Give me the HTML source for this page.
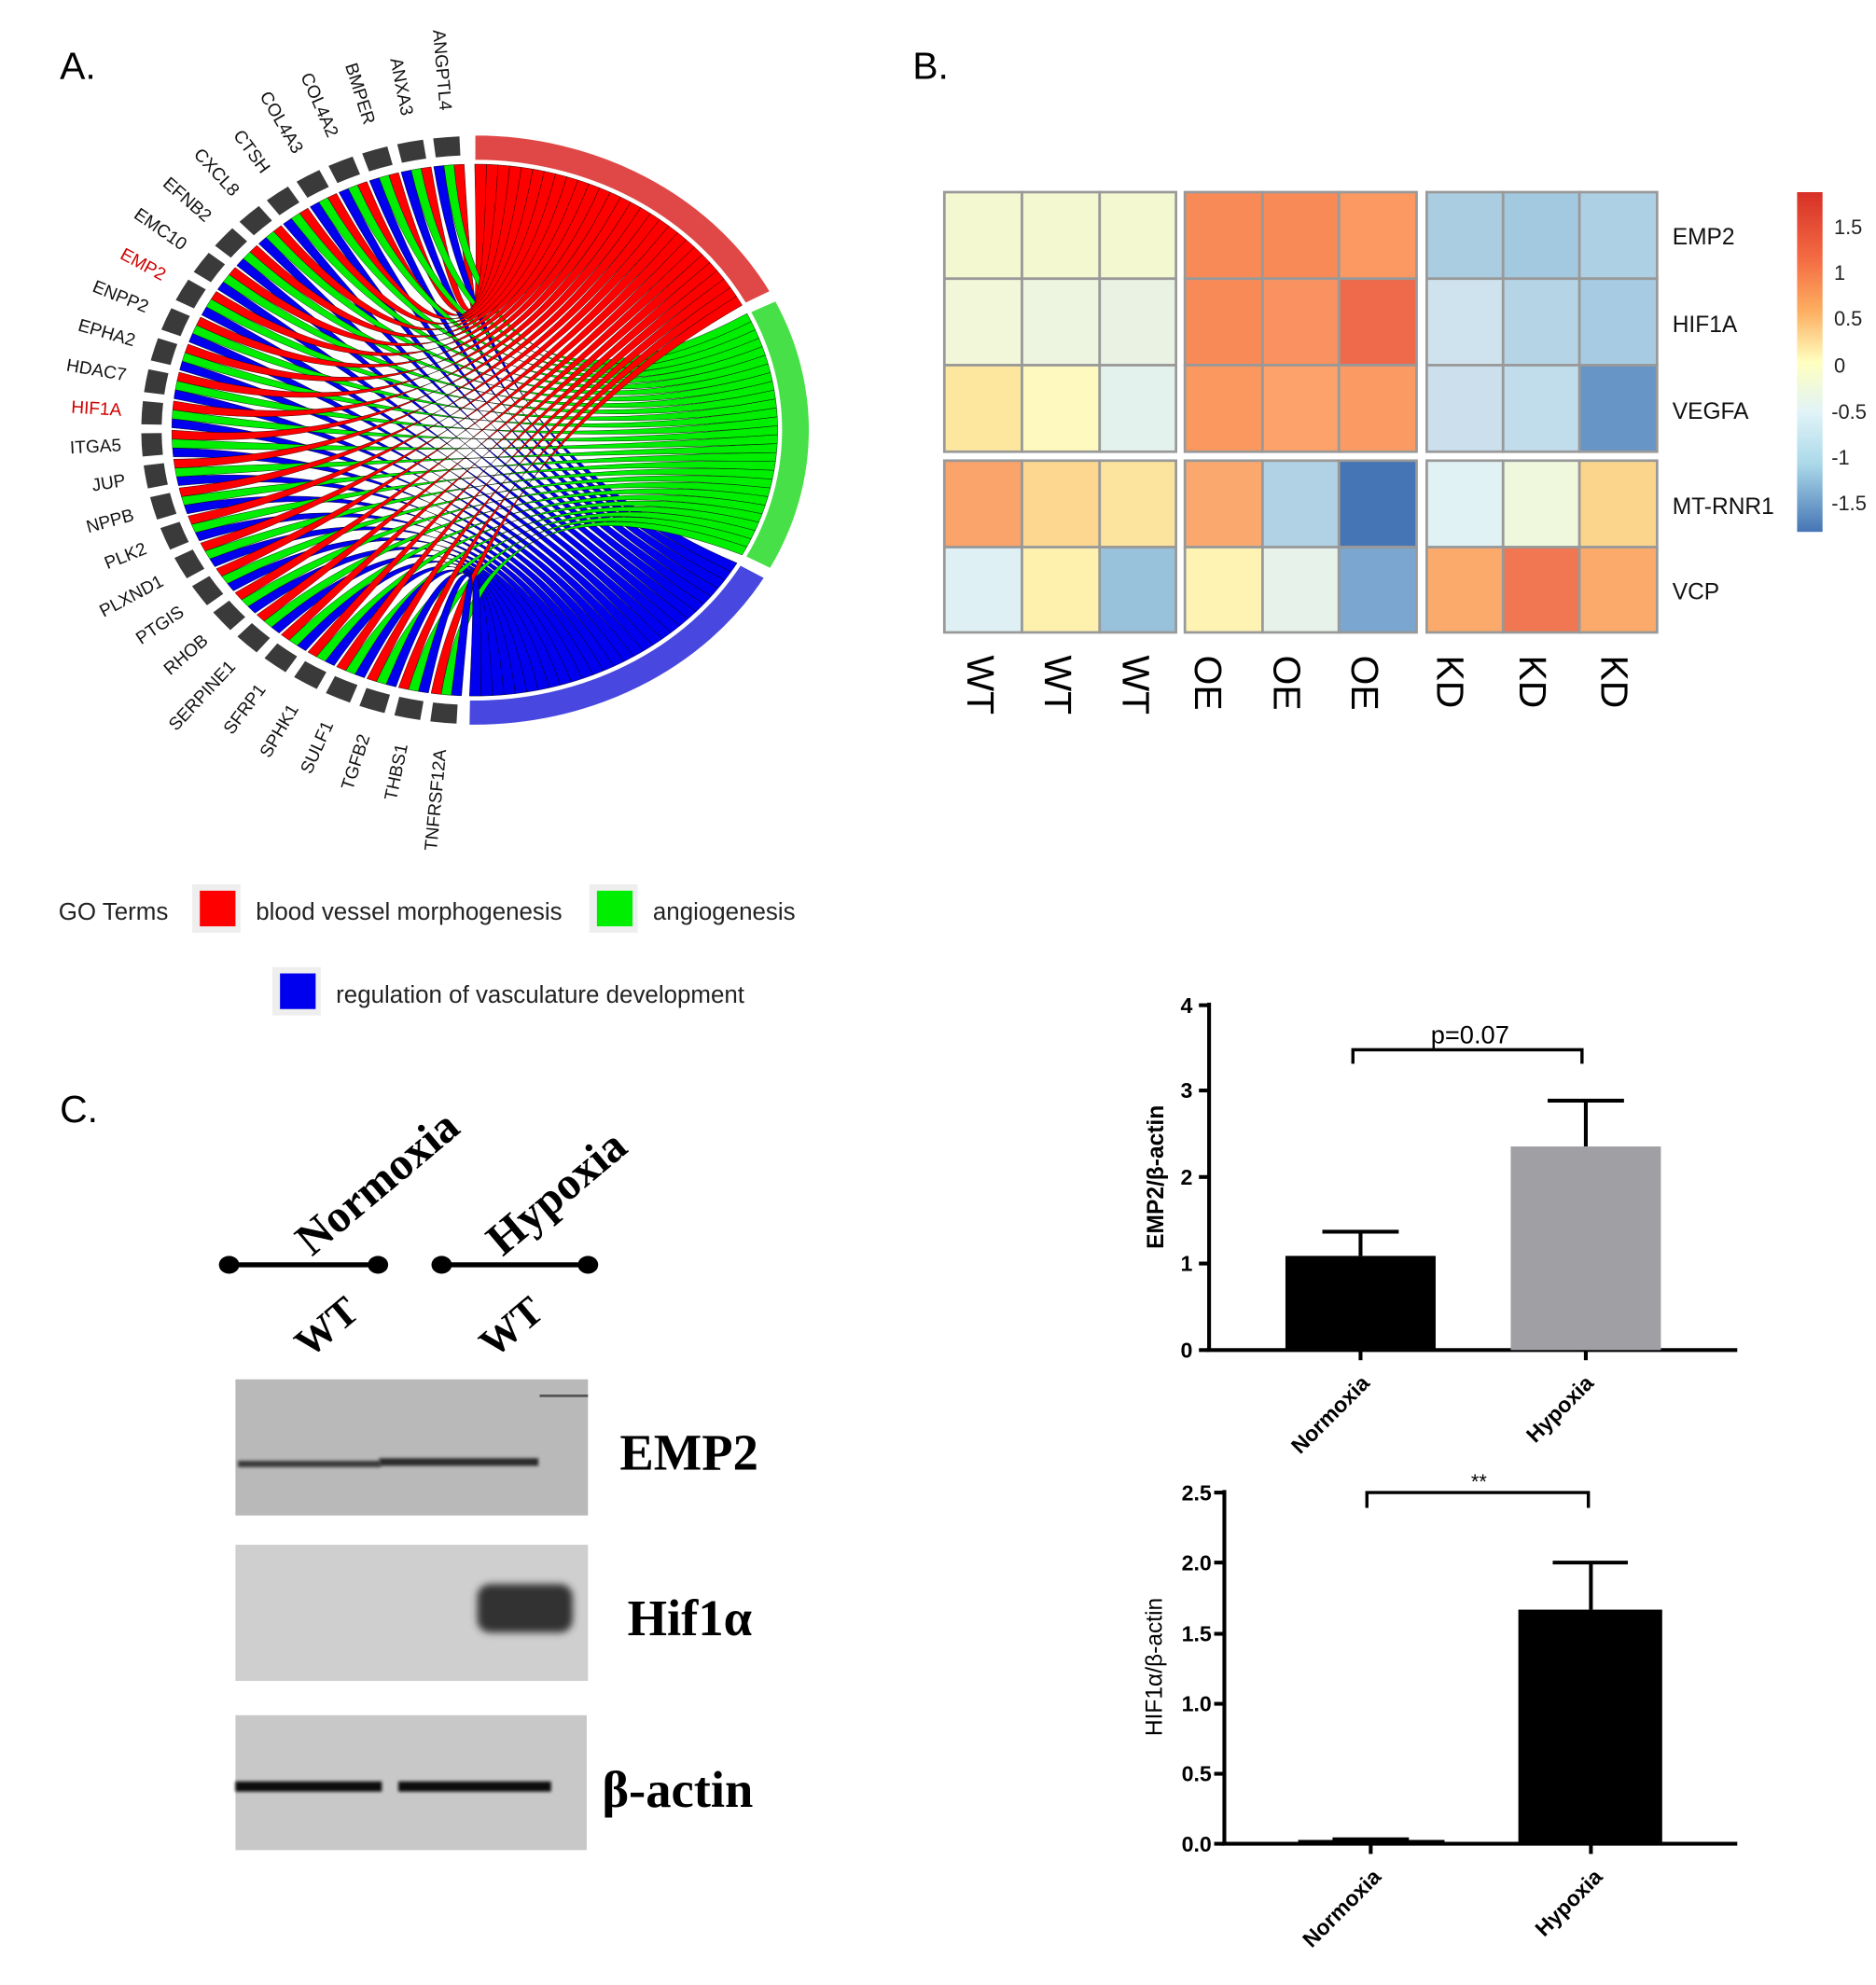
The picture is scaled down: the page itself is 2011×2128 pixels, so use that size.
<!DOCTYPE html>
<html><head><meta charset="utf-8"><style>
html,body{margin:0;padding:0;background:#fff;}
svg{display:block;}
.s{font-family:"Liberation Sans",sans-serif;}
.r{font-family:"Liberation Serif",serif;font-weight:bold;}
</style></head><body>
<svg id="m" width="2011" height="2128" viewBox="0 0 1474 1560" preserveAspectRatio="none" xmlns="http://www.w3.org/2000/svg">
<rect width="1474" height="1560" fill="#fff"/>
<text x="47" y="62" class="s" font-size="30">A.</text>
<text x="717" y="62" class="s" font-size="30">B.</text>
<text x="47" y="882" class="s" font-size="30">C.</text>
<g id="chord"></g>
<g id="labels" class="s" font-size="14"></g>

<!-- legend -->
<g class="s" font-size="19" fill="#222">
<text x="46" y="723">GO Terms</text>
<rect x="151" y="695" width="38" height="38" fill="#eee"/><rect x="157" y="700" width="28" height="28" fill="#ff0000"/>
<text x="201" y="723">blood vessel morphogenesis</text>
<rect x="463" y="695" width="38" height="38" fill="#eee"/><rect x="469" y="700" width="28" height="28" fill="#00ee00"/>
<text x="513" y="723">angiogenesis</text>
<rect x="214" y="760" width="38" height="38" fill="#eee"/><rect x="220" y="765" width="28" height="28" fill="#0000ee"/>
<text x="264" y="788">regulation of vasculature development</text>
</g>

<!-- heatmap -->
<g id="heat" stroke="#999" stroke-width="2"></g>
<defs><linearGradient id="cb" x1="0" y1="0" x2="0" y2="1">
<stop offset="0" stop-color="#d73027"/><stop offset="0.2" stop-color="#f46d43"/><stop offset="0.35" stop-color="#fdae61"/><stop offset="0.5" stop-color="#ffffbf"/><stop offset="0.65" stop-color="#e0f3f8"/><stop offset="0.8" stop-color="#abd9e9"/><stop offset="1" stop-color="#4575b4"/></linearGradient></defs>
<rect x="1412" y="151" width="20" height="267" fill="url(#cb)"/>
<g class="s" font-size="16" fill="#222">
<text x="1441" y="184">1.5</text><text x="1441" y="220">1</text><text x="1441" y="256">0.5</text><text x="1441" y="293">0</text><text x="1439" y="329">-0.5</text><text x="1439" y="365">-1</text><text x="1439" y="401">-1.5</text>
</g>
<g class="s" font-size="18" fill="#111">
<text x="1314" y="192">EMP2</text><text x="1314" y="261">HIF1A</text><text x="1314" y="329">VEGFA</text><text x="1314" y="404">MT-RNR1</text><text x="1314" y="471">VCP</text>
</g>
<g class="s" font-size="30" fill="#000">
<text transform="translate(760,515) rotate(90)">WT</text>
<text transform="translate(821,515) rotate(90)">WT</text>
<text transform="translate(882,515) rotate(90)">WT</text>
<text transform="translate(939,515) rotate(90)">OE</text>
<text transform="translate(1001,515) rotate(90)">OE</text>
<text transform="translate(1062,515) rotate(90)">OE</text>
<text transform="translate(1129,515) rotate(90)">KD</text>
<text transform="translate(1194,515) rotate(90)">KD</text>
<text transform="translate(1258,515) rotate(90)">KD</text>
</g>

<!-- panel C -->
<g class="r" fill="#000">
<text transform="translate(245,988) rotate(-40)" font-size="36">Normoxia</text>
<text transform="translate(395,988) rotate(-40)" font-size="36">Hypoxia</text>
<text transform="translate(243,1068) rotate(-40)" font-size="32">WT</text>
<text transform="translate(388,1068) rotate(-40)" font-size="32">WT</text>
<text x="487" y="1155" font-size="40">EMP2</text>
<text x="493" y="1285" font-size="40">Hif1α</text>
<text x="473" y="1420" font-size="40">β-actin</text>
</g>
<g stroke="#000" stroke-width="4"><line x1="180" y1="994" x2="297" y2="994"/><line x1="347" y1="994" x2="462" y2="994"/></g>
<g fill="#000"><ellipse cx="180" cy="994" rx="8" ry="7"/><ellipse cx="297" cy="994" rx="8" ry="7"/><ellipse cx="347" cy="994" rx="8" ry="7"/><ellipse cx="462" cy="994" rx="8" ry="7"/></g>
<defs><filter id="bl" x="-50%" y="-50%" width="200%" height="200%"><feGaussianBlur stdDeviation="3"/></filter><filter id="bl1" x="-20%" y="-200%" width="140%" height="500%"><feGaussianBlur stdDeviation="1.2"/></filter></defs>
<rect x="185" y="1084" width="277" height="107" fill="#b9b9b9"/>
<rect x="187" y="1148" width="112" height="5" fill="#3a3a3a" filter="url(#bl1)"/>
<rect x="298" y="1146" width="125" height="6" fill="#2a2a2a" filter="url(#bl1)"/>
<line x1="424" y1="1097" x2="462" y2="1097" stroke="#555" stroke-width="2"/>
<rect x="185" y="1214" width="277" height="107" fill="#cfcfcf"/>
<rect x="375" y="1245" width="75" height="38" rx="10" fill="#333" filter="url(#bl)"/>
<rect x="185" y="1348" width="276" height="106" fill="#c8c8c8"/>
<rect x="185" y="1400" width="115" height="8" fill="#111" filter="url(#bl1)"/>
<rect x="313" y="1400" width="120" height="8" fill="#111" filter="url(#bl1)"/>

<!-- bar chart 1 -->
<g stroke="#000" stroke-width="3" fill="none">
<line x1="950" y1="788" x2="950" y2="1062"/><line x1="948" y1="1061" x2="1365" y2="1061"/>
<line x1="942" y1="790" x2="950" y2="790"/><line x1="942" y1="857" x2="950" y2="857"/><line x1="942" y1="925" x2="950" y2="925"/><line x1="942" y1="993" x2="950" y2="993"/><line x1="942" y1="1061" x2="950" y2="1061"/>
<line x1="1069" y1="1061" x2="1069" y2="1069"/><line x1="1246" y1="1061" x2="1246" y2="1069"/>
<polyline points="1063,836 1063,825 1243,825 1243,836" stroke-width="2.5"/>
</g>
<rect x="1010" y="987" width="118" height="74" fill="#000"/>
<rect x="1187" y="901" width="118" height="160" fill="#a0a0a4"/>
<g stroke="#000" stroke-width="3"><line x1="1069" y1="987" x2="1069" y2="968"/><line x1="1039" y1="968" x2="1099" y2="968"/>
<line x1="1246" y1="901" x2="1246" y2="865"/><line x1="1216" y1="865" x2="1276" y2="865"/></g>
<g class="s" font-size="17" font-weight="bold" text-anchor="end">
<text x="937" y="796">4</text><text x="937" y="863">3</text><text x="937" y="931">2</text><text x="937" y="999">1</text><text x="937" y="1067">0</text>
<text transform="translate(1077,1088) rotate(-45)">Normoxia</text>
<text transform="translate(1253,1088) rotate(-45)">Hypoxia</text>
</g>
<text x="1155" y="820" class="s" font-size="20" text-anchor="middle">p=0.07</text>
<text transform="translate(914,925) rotate(-90)" class="s" font-size="18" font-weight="bold" text-anchor="middle">EMP2/β-actin</text>

<!-- bar chart 2 -->
<g stroke="#000" stroke-width="3" fill="none">
<line x1="962" y1="1171" x2="962" y2="1450"/><line x1="960" y1="1449" x2="1365" y2="1449"/>
<line x1="954" y1="1173" x2="962" y2="1173"/><line x1="954" y1="1228" x2="962" y2="1228"/><line x1="954" y1="1284" x2="962" y2="1284"/><line x1="954" y1="1339" x2="962" y2="1339"/><line x1="954" y1="1394" x2="962" y2="1394"/><line x1="954" y1="1449" x2="962" y2="1449"/>
<line x1="1077" y1="1449" x2="1077" y2="1457"/><line x1="1250" y1="1449" x2="1250" y2="1457"/>
<polyline points="1074,1185 1074,1173 1248,1173 1248,1185" stroke-width="2.5"/>
</g>
<rect x="1020" y="1446" width="115" height="3" fill="#000"/>
<line x1="1047" y1="1445" x2="1107" y2="1445" stroke="#000" stroke-width="2"/>
<rect x="1193" y="1265" width="113" height="184" fill="#000"/>
<g stroke="#000" stroke-width="3"><line x1="1250" y1="1265" x2="1250" y2="1228"/><line x1="1220" y1="1228" x2="1279" y2="1228"/></g>
<g class="s" font-size="17" font-weight="bold" text-anchor="end">
<text x="952" y="1179">2.5</text><text x="952" y="1234">2.0</text><text x="952" y="1290">1.5</text><text x="952" y="1345">1.0</text><text x="952" y="1400">0.5</text><text x="952" y="1455">0.0</text>
<text transform="translate(1086,1476) rotate(-45)">Normoxia</text>
<text transform="translate(1260,1476) rotate(-45)">Hypoxia</text>
</g>
<text x="1162" y="1170" class="s" font-size="16" text-anchor="middle">**</text>
<text transform="translate(913,1310) rotate(-90)" class="s" font-size="18" text-anchor="middle">HIF1α/β-actin</text>
</svg>
<script>
(function(){
var NS="http://www.w3.org/2000/svg";
var cx=373,cy=338;
function P(a,rx,ry){var t=a*Math.PI/180;return [cx+rx*Math.cos(t),cy+ry*Math.sin(t)];}
function arcPath(a1,a2,r1x,r1y,r2x,r2y){
 if(a2<a1){var tmp=a1;a1=a2;a2=tmp;}
 var p1=P(a1,r2x,r2y),p2=P(a2,r2x,r2y),p3=P(a2,r1x,r1y),p4=P(a1,r1x,r1y);
 var lg=Math.abs(a2-a1)>180?1:0;
 return "M"+p1+" A"+r2x+","+r2y+" 0 "+lg+",1 "+p2+" L"+p3+" A"+r1x+","+r1y+" 0 "+lg+",0 "+p4+"Z";
}
var g=document.getElementById("chord");
function add(d,f,s,w){var e=document.createElementNS(NS,"path");e.setAttribute("d",d);e.setAttribute("fill",f);if(s){e.setAttribute("stroke",s);e.setAttribute("stroke-width",w);}g.appendChild(e);}
add(arcPath(-90,-28,241,212,263,232),"#e04848","#fff",1);
add(arcPath(-26,28,241,212,263,232),"#48e048","#fff",1);
add(arcPath(30,91,241,212,263,232),"#4848e0","#fff",1);
var genes=["ANGPTL4","ANXA3","BMPER","COL4A2","COL4A3","CTSH","CXCL8","EFNB2","EMC10","EMP2","ENPP2","EPHA2","HDAC7","HIF1A","ITGA5","JUP","NPPB","PLK2","PLXND1","PTGIS","RHOB","SERPINE1","SFRP1","SPHK1","SULF1","TGFB2","THBS1","TNFRSF12A"];
var n=genes.length,start=-92,end=-268,step=(end-start)/n;
var terms=[[-90,-28,"#ff0000"],[-26,28,"#00ee00"],[30,91,"#0000ee"]];
var rcx=238,rcy=209;
for(var i=0;i<n;i++){
 var a0=start+i*step, a1=a0+step*0.92;
 var bc=a0+step*0.46;
 add(arcPath(bc-step*0.36,bc+step*0.36,246,216,262,231),"#3a3a3a");
 for(var k=0;k<3;k++){
  var ga=a0+(a1-a0)*k/3, gb=a0+(a1-a0)*(k+1)/3;
  var T=terms[k], tw=(T[1]-T[0])/n;
  var ta=T[0]+i*tw, tb=ta+tw;
  var p1=P(ga,rcx,rcy),p2=P(gb,rcx,rcy),p3=P(ta,rcx,rcy),p4=P(tb,rcx,rcy);
  var c=[cx+5,cy+20];
  var d="M"+p1+" A"+rcx+","+rcy+" 0 0,0 "+p2+" Q"+c+" "+p3+" A"+rcx+","+rcy+" 0 0,1 "+p4+" Q"+c+" "+p1+"Z";
  add(d,T[2],"#000",0.3);
 }
 var am=bc, lp=P(am,278,252);
 var t=document.createElementNS(NS,"text");
 t.setAttribute("x",0);t.setAttribute("y",0);
 t.setAttribute("text-anchor","end");t.setAttribute("dominant-baseline","middle");
 t.setAttribute("transform","translate("+lp[0]+","+lp[1]+") rotate("+(am+180)+")");
 t.setAttribute("fill",(genes[i]=="EMP2"||genes[i]=="HIF1A")?"#d00000":"#111");
 t.textContent=genes[i];
 document.getElementById("labels").appendChild(t);
}
var H=document.getElementById("heat");
var cols=[[742,803],[803,864],[864,924],[931,992],[992,1052],[1052,1113],[1121,1181],[1181,1241],[1241,1302]];
var rows=[[151,219],[219,287],[287,355],[362,430],[430,497]];
var C=[
["f3f8d1","f3f8d1","f3f8d1","f88a58","f88a58","fc9862","aacde2","a3c9e0","aed0e4"],
["f1f7d8","edf4e0","e9f2e3","f88a58","fa9160","ef6a4b","cfe3ee","b5d5e7","a6cbe2"],
["fde69e","fdf9bf","e4f2ee","fa9860","fca26a","fb9a62","cbdfed","c1ddec","6795c5"],
["faa36a","fdd78f","fde49e","fba86e","b1d2e5","4575b4","e1f2f4","eff8dc","fcd58c"],
["def0f4","fef1ad","98c1db","fff3b3","e6f2ea","7aa6cf","fbaa6c","f07751","fbaa6c"]];
for(var r=0;r<5;r++)for(var j=0;j<9;j++){
 var e=document.createElementNS(NS,"rect");
 e.setAttribute("x",cols[j][0]);e.setAttribute("y",rows[r][0]);
 e.setAttribute("width",cols[j][1]-cols[j][0]);e.setAttribute("height",rows[r][1]-rows[r][0]);
 e.setAttribute("fill","#"+C[r][j]);H.appendChild(e);
}
})();
</script>
</body></html>
